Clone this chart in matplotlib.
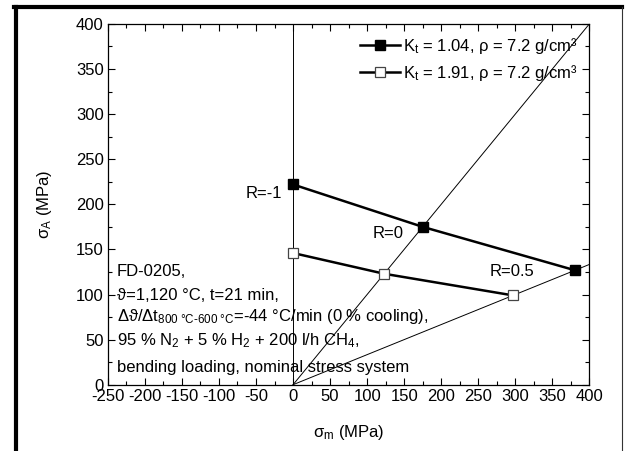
import numpy as np
import matplotlib
matplotlib.use("Agg")
import matplotlib.pyplot as plt
from matplotlib.lines import Line2D
from matplotlib.ticker import MultipleLocator

plt.rcParams['font.family'] = ['Liberation Sans', 'DejaVu Sans']
plt.rcParams['mathtext.fontset'] = 'custom'
plt.rcParams['mathtext.rm'] = 'Liberation Sans'
plt.rcParams['mathtext.it'] = 'Liberation Sans:italic'
plt.rcParams['axes.unicode_minus'] = False
plt.rcParams['font.size'] = 12

# Haigh diagram data (sigma_m, sigma_A in MPa)
sm_kt104 = [0, 175, 380]
sa_kt104 = [222, 175, 127]
sm_kt191 = [0, 123, 297]
sa_kt191 = [146, 123, 99]

label_kt104 = 'K$_\\mathregular{t}$ = 1.04, ρ = 7.2 g/cm³'
label_kt191 = 'K$_\\mathregular{t}$ = 1.91, ρ = 7.2 g/cm³'

r_values = [-1, 0, 0.5]
r_labels = ['R=-1', 'R=0', 'R=0.5']
r_label_pos = [(-15, 212), (107, 168), (266, 125)]

info_lines = [
    'FD-0205,',
    'ϑ=1,120 °C, t=21 min,',
    'Δϑ/Δt$_\\mathregular{800\\ °C\\text{-}600\\ °C}$=-44 °C/min (0 % cooling),',
    '95 % N$_\\mathregular{2}$ + 5 % H$_\\mathregular{2}$ + 200 l/h CH$_\\mathregular{4}$,',
    'bending loading, nominal stress system',
]
info_y = [125, 99, 76, 49, 19]

fig = plt.figure(figsize=(6.27, 4.51), dpi=100)
ax = fig.add_axes([0.172, 0.147, 0.768, 0.800])

# R-ratio rays
for R in r_values:
    if R == -1:
        ax.plot([0, 0], [0, 400], color='black', lw=0.7)
    else:
        k = (1 - R) / (1 + R)
        xe = min(400, 400 / k)
        ax.plot([0, xe], [0, k * xe], color='black', lw=0.7)

ax.plot(sm_kt104, sa_kt104, '-s', color='black', lw=1.8, ms=7.5,
        mfc='black', mec='black', label=label_kt104)
ax.plot(sm_kt191, sa_kt191, '-s', color='black', lw=1.8, ms=7.5,
        mfc='white', mec='#444444', mew=0.9, label=label_kt191)

for lab, (x, y) in zip(r_labels, r_label_pos):
    ha = 'right' if lab == 'R=-1' else 'left'
    ax.text(x, y, lab, ha=ha, va='center', fontsize=12)

for line, y in zip(info_lines, info_y):
    ax.text(-238, y, line, ha='left', va='center', fontsize=12)

ax.set_xlim(-250, 400)
ax.set_ylim(0, 400)
ax.xaxis.set_major_locator(MultipleLocator(50))
ax.xaxis.set_minor_locator(MultipleLocator(25))
ax.yaxis.set_major_locator(MultipleLocator(50))
ax.yaxis.set_minor_locator(MultipleLocator(25))
ax.tick_params(which='both', direction='in', top=True, right=True,
               labelsize=12, width=0.8)
ax.tick_params(which='major', length=5, pad=3)
ax.tick_params(which='minor', length=3)
for s in ax.spines.values():
    s.set_linewidth(0.9)

ax.set_xlabel('σ$_\\mathregular{m}$ (MPa)', fontsize=12, labelpad=14)
ax.set_ylabel('σ$_\\mathregular{A}$ (MPa)', fontsize=12, labelpad=16)

ax.legend(loc='upper right', frameon=False, fontsize=12, handlelength=2.4,
          handletextpad=0.2, borderaxespad=0.3, labelspacing=0.45)

# outer frame of the picture
fig.add_artist(Line2D([16 / 627, 16 / 627], [0, 1 - 7 / 451], color='black',
                      lw=3, transform=fig.transFigure))
fig.add_artist(Line2D([14 / 627, 622 / 627], [1 - 7 / 451, 1 - 7 / 451],
                      color='black', lw=3, transform=fig.transFigure))
fig.add_artist(Line2D([622 / 627, 622 / 627], [0, 1 - 7 / 451], color='#333333',
                      lw=0.8, transform=fig.transFigure))

fig.savefig('out.png', dpi=100)
